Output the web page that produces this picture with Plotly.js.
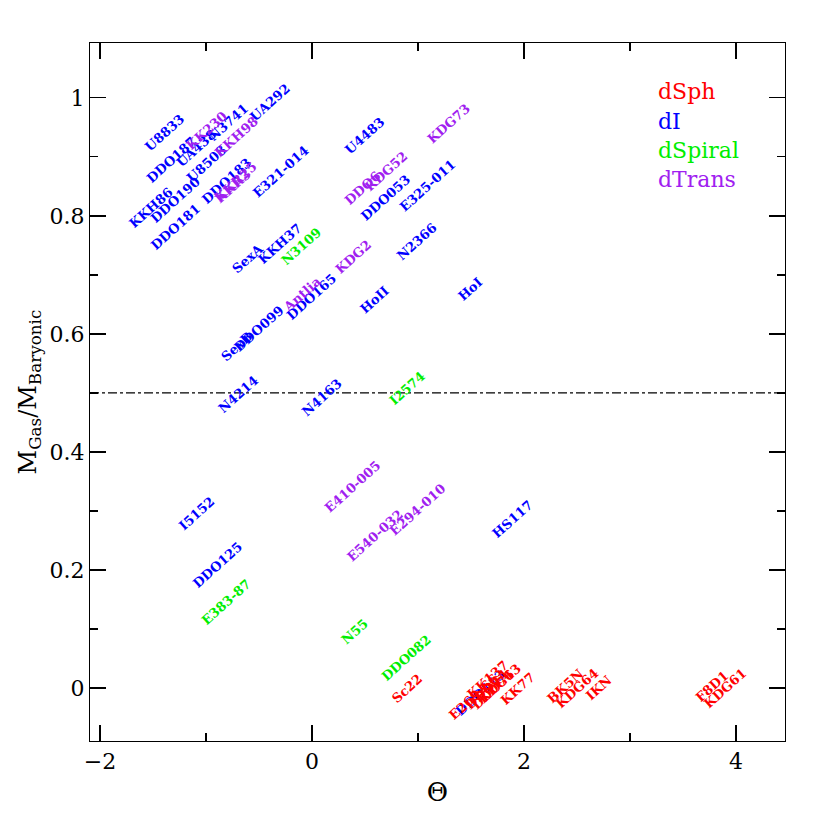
<!DOCTYPE html>
<html>
<head>
<meta charset="utf-8">
<script src="https://cdn.plot.ly/plotly-3.0.1.min.js"></script>
<style>html,body{margin:0;padding:0;background:#fff;}#chart{width:830px;height:830px;}</style>
</head>
<body>
<div id="chart"></div>
<script>
// dI (blue)
const dINames = ["U8833","DDO187","UA438","N3741","UA292","U8508","DDO190","KKH86","DDO181","DDO183","E321-014","U4483","DDO053","E325-011","N2366","HoI","SexA","KKH37","DDO165","HoII","DDO099","SexB","N4214","N4163","I5152","DDO125","HS117","DDO113"];
const dITheta = [-1.387,-1.321,-1.094,-0.792,-0.396,-0.991,-1.283,-1.519,-1.292,-0.811,-0.292,0.500,0.698,1.094,0.991,1.491,-0.604,-0.302,0.000,0.594,-0.500,-0.708,-0.698,0.094,-1.085,-0.896,1.887,1.594];
const dIFrac = [0.941,0.895,0.915,0.959,0.992,0.888,0.827,0.815,0.781,0.859,0.875,0.936,0.831,0.851,0.756,0.675,0.727,0.754,0.663,0.658,0.610,0.578,0.498,0.492,0.295,0.208,0.286,-0.008];

// dSph (red)
const dSphNames = ["Sc22","E269-66","DDO44","DDO71","KK137","KDG63","KK77","BK5N","KDG64","IKN","F8D1","KDG61"];
const dSphTheta = [0.896,1.528,1.651,1.708,1.660,1.774,1.943,2.387,2.500,2.698,3.774,3.896];
const dSphFrac = [0.000,-0.014,-0.003,-0.002,0.014,0.007,0.000,0.002,0.000,0.000,0.002,0.000];

// dSpiral (green)
const dSpiralNames = ["N3109","I2574","E383-87","N55","DDO082"];
const dSpiralTheta = [-0.104,0.896,-0.802,0.406,0.896];
const dSpiralFrac = [0.749,0.508,0.146,0.095,0.051];

// dTrans (purple)
const dTransNames = ["KK230","KKH98","KKR25","KKR3","KDG73","DDO6","KDG52","KDG2","Antlia","E410-005","E540-032","E294-010"];
const dTransTheta = [-0.991,-0.708,-0.717,-0.745,1.292,0.472,0.698,0.396,-0.094,0.387,0.594,1.000];
const dTransFrac = [0.944,0.934,0.858,0.849,0.956,0.847,0.876,0.731,0.666,0.341,0.259,0.302];

const legendNames = ["dSph","dI","dSpiral","dTrans"];
const divideLevel = 0.5;

const COLORS = {dSph:"#ff0000", dI:"#0000ff", dSpiral:"#00ee00", dTrans:"#a020f0"};
const groups = [
  {key:"dI", names:dINames, x:dITheta, y:dIFrac},
  {key:"dSph", names:dSphNames, x:dSphTheta, y:dSphFrac},
  {key:"dSpiral", names:dSpiralNames, x:dSpiralTheta, y:dSpiralFrac},
  {key:"dTrans", names:dTransNames, x:dTransTheta, y:dTransFrac}
];

const FONT = "'DejaVu Serif', 'Liberation Serif', serif";
const traces = [];
const annotations = [];
groups.forEach(g => {
  traces.push({type:"scatter", mode:"markers", x:g.x, y:g.y, text:g.names, name:g.key,
    marker:{size:6, color:COLORS[g.key], opacity:0}, hoverinfo:"text+x+y", showlegend:false});
  g.names.forEach((n,i) => {
    annotations.push({x:g.x[i], y:g.y[i], xref:"x", yref:"y", text:n, showarrow:false,
      textangle:-42, xanchor:"center", yanchor:"middle",
      font:{family:FONT, size:13, weight:"bold", color:COLORS[g.key]}});
  });
});
legendNames.forEach((n,i) => {
  annotations.push({x:0.814, y:0.93 - i*0.042, xref:"paper", yref:"paper", text:n, showarrow:false,
    xanchor:"left", yanchor:"middle", font:{family:FONT, size:22, color:COLORS[n]}});
});

const axisCommon = {
  showgrid:false, zeroline:false, showline:true, linecolor:"#000", linewidth:1.2,
  mirror:"ticks", ticks:"inside", ticklen:16, tickwidth:1.2, tickcolor:"#000",
  tickfont:{family:FONT, size:22, color:"#000"}
};

const layout = {
  width:830, height:830,
  margin:{l:90, r:45, t:43, b:89},
  paper_bgcolor:"#fff", plot_bgcolor:"#fff",
  showlegend:false,
  xaxis:Object.assign({}, axisCommon, {
    range:[-2.094, 4.462], tick0:-2, dtick:2,
    minor:{dtick:1, ticklen:8, tickwidth:1.2, tickcolor:"#000", ticks:"inside"},
    title:{text:"Θ", font:{family:FONT, size:26, color:"#000"}, standoff:10}
  }),
  yaxis:Object.assign({}, axisCommon, {
    range:[-0.0898, 1.093], tick0:0, dtick:0.2,
    minor:{dtick:0.1, ticklen:8, tickwidth:1.2, tickcolor:"#000", ticks:"inside"},
    title:{text:"M<sub>Gas</sub>/M<sub>Baryonic</sub>", font:{family:FONT, size:24, color:"#000"}, standoff:6}
  }),
  shapes:[{type:"line", xref:"paper", x0:0, x1:1, yref:"y", y0:divideLevel, y1:divideLevel,
    line:{color:"#000", width:1.2, dash:"dashdot"}}],
  annotations:annotations
};

Plotly.newPlot("chart", traces, layout, {staticPlot:true, displayModeBar:false});
</script>
</body>
</html>
